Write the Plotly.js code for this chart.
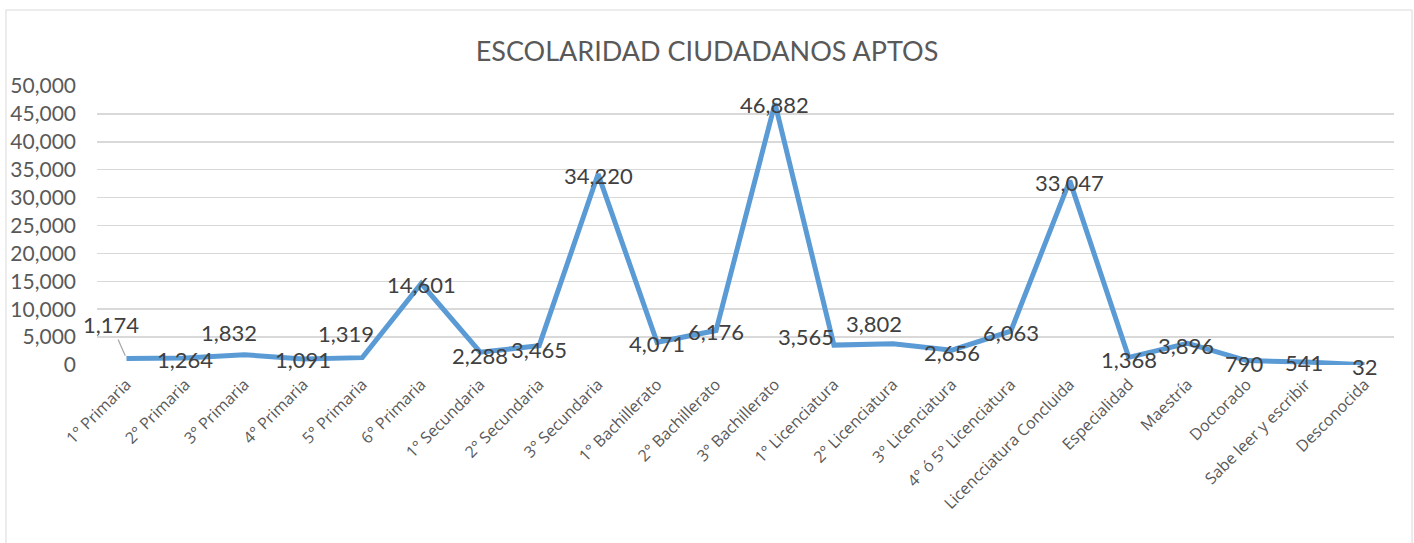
<!DOCTYPE html>
<html>
<head>
<meta charset="utf-8">
<script src="https://cdn.plot.ly/plotly-3.0.1.min.js"></script>
<style>
html,body{margin:0;padding:0;background:#fff;}
#chart{width:1414px;height:543px;}
</style>
</head>
<body>
<div id="chart"></div>
<script>
// ---- data ----
const categories = [
  "1° Primaria", "2° Primaria", "3° Primaria", "4° Primaria", "5° Primaria", "6° Primaria",
  "1° Secundaria", "2° Secundaria", "3° Secundaria",
  "1° Bachillerato", "2° Bachillerato", "3° Bachillerato",
  "1° Licenciatura", "2° Licenciatura", "3° Licenciatura", "4° ó 5° Licenciatura",
  "Licencciatura Concluida", "Especialidad", "Maestría", "Doctorado",
  "Sabe leer y escribir", "Desconocida"
];
const values = [
  1174, 1264, 1832, 1091, 1319, 14601,
  2288, 3465, 34220,
  4071, 6176, 46882,
  3565, 3802, 2656, 6063,
  33047, 1368, 3896, 790,
  541, 32
];
const yTickValues = [0, 5000, 10000, 15000, 20000, 25000, 30000, 35000, 40000, 45000, 50000];
const chartTitle = "ESCOLARIDAD CIUDADANOS APTOS";

// ---- label placement (style, pixel offsets of label centre from its point) ----
const labelDx = [-15, 0, -15, 0, -16, 0, 0, 0, 0, 0, 0, 0, -28, -19, 0, 0, 0, 0, -2, -2, -2, 0];
const labelDy = [-34, 2, -22, 1, -24, 1, 3, 4, 1, 1, 1, 1, -9, -20, 2, 1, 2, 2, 2, 3, 1, 2];
const leaderLine = [true, false, false, false, false, false, false, false, false, false, false,
                    false, false, false, false, false, false, false, false, false, false, false];

const fmt = v => v.toLocaleString("en-US");

const FONT = "Lato, 'Open Sans', sans-serif";
const TICKFONT = "'Open Sans', sans-serif";
const LABELFONT = {family: FONT, size: 22, color: "#404040"};

const trace = {
  type: "scatter",
  mode: "lines",
  x: categories,
  y: values,
  line: {color: "#5B9BD5", width: 5},
  hoverinfo: "skip",
  cliponaxis: false
};

const labelAnnotations = values.map((v, i) => {
  const a = {
    x: categories[i], y: v, xref: "x", yref: "y",
    text: fmt(v), font: LABELFONT
  };
  if (leaderLine[i]) {
    Object.assign(a, {
      showarrow: true, arrowhead: 0, arrowwidth: 1.2, arrowcolor: "#A6A6A6",
      ax: labelDx[i], ay: labelDy[i], standoff: 3
    });
  } else {
    Object.assign(a, {
      showarrow: false, xanchor: "center", yanchor: "middle",
      xshift: labelDx[i], yshift: -labelDy[i]
    });
  }
  return a;
});

const layout = {
  width: 1414,
  height: 543,
  margin: {l: 97, r: 20, t: 86, b: 178},
  paper_bgcolor: "#ffffff",
  plot_bgcolor: "#ffffff",
  showlegend: false,
  title: {
    text: chartTitle,
    font: {family: FONT, size: 27, color: "#595959"},
    x: 0.5, xanchor: "center",
    y: 0.905, yanchor: "middle"
  },
  xaxis: {
    type: "category",
    range: [-0.5, categories.length - 0.5],
    tickangle: -45,
    tickfont: {family: TICKFONT, size: 16, color: "#595959"},
    showgrid: false,
    showline: false,
    zeroline: false,
    ticks: "",
    ticklabelstandoff: 6,
    automargin: false,
    fixedrange: true
  },
  yaxis: {
    range: [0, 50000],
    tickvals: yTickValues,
    ticktext: yTickValues.map(fmt),
    tickfont: {family: FONT, size: 21, color: "#595959"},
    showgrid: true,
    gridcolor: "#D9D9D9",
    gridwidth: 1.5,
    zeroline: false,
    showline: false,
    ticks: "",
    ticklabelstandoff: 20,
    automargin: false,
    fixedrange: true
  },
  annotations: labelAnnotations,
  shapes: [{
    type: "rect",
    xref: "paper", yref: "paper",
    x0: -0.0702, x1: 1.0139, y0: -1.5, y1: 1.2724,
    line: {color: "#D9D9D9", width: 1},
    fillcolor: "rgba(0,0,0,0)",
    layer: "below"
  }]
};

Plotly.newPlot("chart", [trace], layout, {staticPlot: true, displayModeBar: false});
</script>
</body>
</html>
